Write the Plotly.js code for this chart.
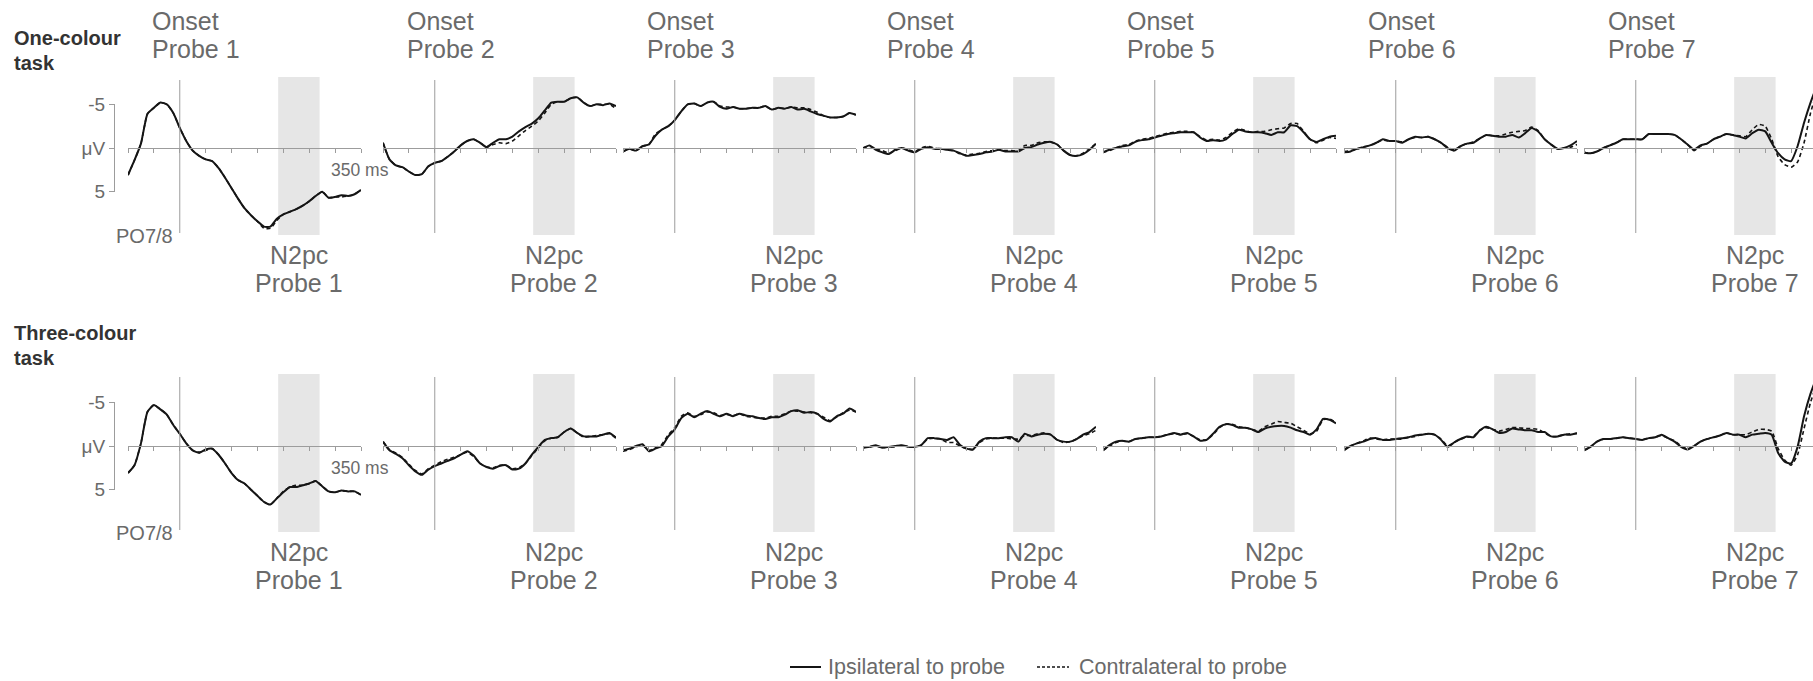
<!DOCTYPE html>
<html><head><meta charset="utf-8">
<script src="https://cdn.plot.ly/plotly-3.0.1.min.js"></script>
<style>html,body{margin:0;padding:0;background:#fff;overflow:hidden}#chart{width:1813px;height:681px}</style>
</head><body><div id="chart"></div>
<script>
// ---------- DATA ----------
const times = [-100,-87.5,-75,-62.5,-50,-37.5,-25,-12.5,0,12.5,25,37.5,50,62.5,75,87.5,100,112.5,125,137.5,150,162.5,175,187.5,200,212.5,225,237.5,250,262.5,275,287.5,300,312.5,325,337.5,350];
const probeLabels = ['Probe 1','Probe 2','Probe 3','Probe 4','Probe 5','Probe 6','Probe 7'];
const taskLabels = [['One-colour','task'],['Three-colour','task']];
const seriesNames = ['Ipsilateral to probe','Contralateral to probe'];
const onsetLabel = 'Onset';
const n2pcLabel = 'N2pc';
const n2pcWindow = [190, 270];
const electrodeLabel = 'PO7/8';
const timeLabel = '350 ms';
const scaleTicks = [-5, 0, 5];
const scaleTickText = ['-5', 'μV', '5'];

// One-colour task
const ipsiOne1 = [3.1,1.4,-0.5,-3.9,-4.6,-5.2,-5.0,-4.0,-2.3,-0.8,0.3,0.9,1.3,1.5,2.3,3.4,4.6,5.8,6.9,7.7,8.4,9.0,9.0,8.1,7.6,7.3,7.0,6.6,6.1,5.5,5.0,5.7,5.6,5.4,5.5,5.3,4.8];
const contraOne1 = [3.1,1.4,-0.5,-3.9,-4.6,-5.2,-5.0,-4.0,-2.3,-0.8,0.3,0.9,1.3,1.5,2.3,3.4,4.6,5.8,6.9,7.7,8.4,9.2,9.2,8.3,7.6,7.3,7.0,6.6,6.1,5.5,5.0,5.7,5.6,5.6,5.5,5.3,4.8];
const ipsiOne2 = [-0.6,1.3,2.0,2.2,2.7,3.1,3.0,2.1,1.7,1.5,1.0,0.4,-0.3,-0.8,-1.0,-0.6,-0.1,-0.6,-1.0,-1.0,-1.3,-1.9,-2.4,-2.8,-3.4,-4.3,-5.2,-5.3,-5.3,-5.7,-5.8,-5.2,-4.8,-5.0,-4.9,-5.1,-4.8];
const contraOne2 = [-0.6,1.3,2.0,2.2,2.7,3.1,3.0,2.1,1.7,1.5,1.0,0.4,-0.3,-0.8,-1.0,-0.6,-0.1,-0.4,-0.6,-0.5,-0.8,-1.4,-2.0,-2.5,-3.1,-4.0,-5.0,-5.3,-5.3,-5.7,-5.8,-5.2,-4.8,-5.0,-5.0,-5.0,-4.5];
const ipsiOne3 = [0.4,0.1,0.3,-0.2,-0.4,-1.4,-2.1,-2.5,-3.2,-4.2,-5.0,-5.1,-4.8,-5.2,-5.3,-4.7,-4.5,-4.7,-4.5,-4.5,-4.6,-4.6,-4.8,-4.4,-4.6,-4.5,-4.7,-4.4,-4.5,-4.2,-3.9,-3.7,-3.5,-3.5,-3.6,-4.0,-3.8];
const contraOne3 = [0.4,0.1,0.3,-0.2,-0.4,-1.6,-2.1,-2.5,-3.2,-4.2,-5.0,-5.1,-4.8,-5.2,-5.3,-4.8,-4.7,-4.7,-4.5,-4.5,-4.6,-4.6,-4.8,-4.4,-4.6,-4.5,-4.7,-4.6,-4.6,-4.4,-4.1,-3.7,-3.5,-3.5,-3.6,-4.0,-3.8];
const ipsiOne4 = [0.0,-0.3,0.2,0.5,0.7,0.2,0.0,0.3,0.5,0.1,-0.1,0.1,0.1,0.2,0.3,0.6,0.9,0.8,0.7,0.5,0.4,0.2,0.4,0.4,0.4,0.0,-0.1,-0.4,-0.6,-0.7,-0.4,0.3,0.8,0.9,0.7,0.2,-0.5];
const contraOne4 = [0.0,-0.2,0.1,0.3,0.6,0.3,0.0,0.2,0.4,0.0,-0.2,0.0,0.1,0.2,0.3,0.7,0.8,0.7,0.6,0.4,0.3,0.2,0.3,0.3,0.3,-0.3,-0.3,-0.6,-0.7,-0.7,-0.4,0.3,0.8,0.9,0.6,0.1,-0.5];
const ipsiOne5 = [0.5,0.2,0.0,-0.2,-0.3,-0.7,-0.9,-1.0,-1.2,-1.4,-1.6,-1.7,-1.8,-1.8,-1.8,-1.2,-0.8,-0.9,-0.8,-1.0,-1.6,-2.1,-1.9,-1.8,-1.8,-1.7,-1.5,-1.8,-1.8,-2.6,-2.5,-1.8,-1.0,-0.7,-1.0,-1.3,-1.4];
const contraOne5 = [0.5,0.3,0.0,-0.3,-0.4,-0.8,-1.0,-1.1,-1.3,-1.5,-1.7,-1.8,-1.9,-1.9,-1.8,-1.3,-0.9,-1.0,-0.9,-1.2,-1.8,-2.2,-2.0,-1.8,-1.9,-1.9,-2.1,-2.2,-2.3,-2.8,-2.8,-1.9,-1.0,-0.6,-0.9,-1.2,-1.1];
const ipsiOne6 = [0.5,0.4,0.1,-0.1,-0.3,-0.6,-1.0,-0.8,-0.8,-0.6,-1.0,-1.3,-1.2,-1.3,-1.0,-0.6,0.0,0.3,-0.2,-0.5,-0.6,-1.1,-1.5,-1.4,-1.3,-1.3,-1.5,-1.2,-1.7,-2.3,-1.9,-1.0,-0.4,0.1,0.0,-0.3,-0.8];
const contraOne6 = [0.4,0.3,0.1,-0.1,-0.3,-0.6,-0.9,-0.8,-0.8,-0.7,-1.0,-1.2,-1.2,-1.3,-1.0,-0.6,-0.1,0.2,-0.2,-0.5,-0.7,-1.1,-1.5,-1.4,-1.4,-1.6,-1.8,-1.9,-2.0,-2.4,-2.0,-1.0,-0.4,0.1,0.0,-0.1,-0.4];
const ipsiOne7 = [0.5,0.6,0.4,0.0,-0.3,-0.6,-1.0,-1.0,-1.0,-1.0,-1.6,-1.6,-1.6,-1.6,-1.5,-1.0,-0.4,0.2,-0.3,-0.5,-1.0,-1.3,-1.6,-1.5,-1.3,-1.1,-1.7,-2.1,-1.9,-0.6,0.6,1.3,1.5,-0.2,-2.9,-5.2,-7.2];
const contraOne7 = [0.5,0.6,0.4,0.0,-0.3,-0.6,-1.0,-1.0,-1.0,-1.0,-1.6,-1.6,-1.6,-1.6,-1.5,-1.0,-0.4,0.3,-0.2,-0.5,-1.0,-1.3,-1.6,-1.5,-1.4,-1.3,-2.1,-2.7,-2.5,-1.0,1.0,1.9,2.2,1.6,-0.6,-4.0,-6.5];

// Three-colour task
const ipsiThree1 = [3.1,2.2,-0.3,-3.9,-4.7,-4.2,-3.6,-2.4,-1.4,-0.3,0.5,0.8,0.4,0.3,1.0,2.0,3.1,3.9,4.3,5.0,5.7,6.4,6.7,6.0,5.3,4.7,4.7,4.5,4.3,4.0,4.6,5.2,5.3,5.1,5.2,5.2,5.6];
const contraThree1 = [3.1,2.2,-0.3,-3.9,-4.7,-4.2,-3.6,-2.4,-1.4,-0.3,0.5,0.7,0.5,0.3,1.0,2.0,3.1,3.9,4.3,5.0,5.7,6.4,6.7,6.0,5.2,4.7,4.5,4.5,4.3,4.0,4.6,5.2,5.3,5.1,5.2,5.2,5.6];
const ipsiThree2 = [-0.5,0.5,0.9,1.4,2.2,2.9,3.3,2.7,2.3,2.0,1.7,1.4,1.0,0.6,1.1,2.0,2.4,2.6,2.3,2.2,2.7,2.6,2.0,1.0,0.1,-0.7,-0.9,-1.0,-1.6,-2.0,-1.5,-1.1,-1.1,-1.1,-1.3,-1.5,-0.9];
const contraThree2 = [-0.5,0.4,0.8,1.3,2.1,2.8,3.2,2.6,2.2,1.8,1.5,1.3,1.0,0.7,1.2,2.0,2.4,2.5,2.2,2.2,2.6,2.5,2.0,1.1,0.2,-0.6,-0.9,-1.0,-1.6,-2.0,-1.5,-1.0,-1.1,-1.2,-1.3,-1.4,-1.0];
const ipsiThree3 = [0.5,0.3,0.0,-0.2,0.6,0.3,0.0,-1.1,-1.9,-3.2,-3.7,-3.3,-3.7,-4.0,-3.7,-3.4,-3.7,-3.4,-3.7,-3.5,-3.4,-3.2,-3.1,-3.3,-3.3,-3.6,-4.0,-4.1,-3.8,-3.9,-3.7,-3.1,-2.8,-3.4,-3.7,-4.3,-3.9];
const contraThree3 = [0.6,0.4,0.1,-0.1,0.5,0.2,-0.2,-1.3,-2.1,-3.4,-3.8,-3.4,-3.6,-3.9,-3.8,-3.5,-3.6,-3.5,-3.7,-3.4,-3.3,-3.2,-3.2,-3.4,-3.4,-3.7,-4.0,-4.0,-3.9,-3.8,-3.7,-3.3,-2.9,-3.3,-3.8,-4.1,-3.9];
const ipsiThree4 = [0.2,0.1,-0.1,0.2,0.1,0.0,-0.1,0.1,0.1,-0.1,-0.9,-0.9,-0.8,-0.7,-1.0,-0.1,0.3,0.4,-0.5,-0.9,-0.9,-0.9,-1.0,-1.0,-0.5,-1.4,-1.1,-1.3,-1.4,-1.3,-0.7,-0.5,-0.5,-0.8,-1.3,-1.6,-2.2];
const contraThree4 = [0.2,0.1,0.0,0.2,0.1,0.1,-0.1,0.1,0.1,-0.1,-0.8,-0.9,-0.8,-0.4,-0.4,0.0,0.3,0.4,-0.4,-0.8,-0.9,-0.9,-0.9,-0.8,-0.8,-1.2,-1.2,-1.4,-1.5,-1.3,-0.7,-0.4,-0.5,-0.8,-1.2,-1.4,-1.8];
const ipsiThree5 = [0.5,-0.1,-0.5,-0.6,-0.5,-0.8,-0.9,-1.0,-1.0,-1.1,-1.3,-1.5,-1.3,-1.5,-1.1,-0.6,-0.7,-1.4,-2.2,-2.5,-2.4,-2.1,-2.1,-1.9,-1.6,-2.0,-2.2,-2.3,-2.3,-2.1,-1.8,-1.6,-1.3,-1.9,-3.1,-3.0,-2.6];
const contraThree5 = [0.5,0.0,-0.4,-0.6,-0.5,-0.8,-0.9,-1.0,-1.0,-1.1,-1.3,-1.4,-1.3,-1.4,-1.1,-0.7,-0.7,-1.3,-2.1,-2.5,-2.5,-2.2,-2.1,-1.9,-1.7,-2.2,-2.5,-2.8,-2.7,-2.6,-2.2,-1.8,-1.4,-1.7,-3.0,-3.1,-2.7];
const ipsiThree6 = [0.5,0.0,-0.3,-0.5,-0.8,-0.9,-0.7,-0.7,-0.8,-0.9,-1.0,-1.2,-1.3,-1.4,-1.3,-0.7,0.1,-0.4,-0.8,-1.1,-1.0,-1.8,-2.2,-1.9,-1.5,-1.6,-2.0,-1.9,-1.8,-1.8,-1.6,-1.6,-1.1,-1.1,-1.3,-1.3,-1.5];
const contraThree6 = [0.4,0.0,-0.3,-0.6,-0.9,-0.8,-0.7,-0.8,-0.8,-0.8,-1.0,-1.1,-1.3,-1.4,-1.3,-0.8,0.0,-0.4,-0.8,-1.0,-1.1,-1.8,-2.1,-1.9,-1.7,-1.9,-2.1,-2.1,-2.0,-2.0,-1.9,-1.5,-1.1,-1.1,-1.3,-1.4,-1.4];
const ipsiThree7 = [0.5,0.1,-0.5,-0.8,-0.8,-0.9,-1.0,-0.9,-0.8,-0.7,-0.9,-1.0,-1.3,-0.9,-0.5,0.1,0.4,0.0,-0.5,-0.8,-1.0,-1.2,-1.5,-1.3,-1.3,-1.0,-1.3,-1.4,-1.5,-1.3,0.8,1.8,2.0,0.1,-3.4,-6.0,-8.0];
const contraThree7 = [0.5,0.1,-0.5,-0.8,-0.8,-0.9,-1.0,-0.9,-0.8,-0.7,-0.9,-1.0,-1.2,-0.9,-0.6,0.0,0.3,0.0,-0.5,-0.8,-1.0,-1.2,-1.5,-1.3,-1.3,-1.3,-1.6,-1.9,-1.9,-1.7,0.3,1.6,2.2,1.0,-2.0,-5.0,-7.2];

const ipsiRows = [[ipsiOne1,ipsiOne2,ipsiOne3,ipsiOne4,ipsiOne5,ipsiOne6,ipsiOne7],
                  [ipsiThree1,ipsiThree2,ipsiThree3,ipsiThree4,ipsiThree5,ipsiThree6,ipsiThree7]];
const contraRows = [[contraOne1,contraOne2,contraOne3,contraOne4,contraOne5,contraOne6,contraOne7],
                    [contraThree1,contraThree2,contraThree3,contraThree4,contraThree5,contraThree6,contraThree7]];

// ---------- LAYOUT GEOMETRY (pixels) ----------
const W = 1813, H = 681;
const panelLeft = [128, 383, 623, 863, 1103, 1344, 1584];
const panelWidth = 233;
const xMin = -100, xMax = 350;
const pxPerUV = 8.73;
const rowGeom = [
  {zero:148, top:77, bottom:235, onsetTop:80, onsetBottom:233, title1:21, title2:49, n2pc1:255, n2pc2:283, task1:38, task2:63, msY:170, poY:236},
  {zero:446, top:374, bottom:532, onsetTop:377, onsetBottom:530, title1:null, title2:null, n2pc1:552, n2pc2:580, task1:333, task2:358, msY:468, poY:533}
];
// legend key geometry: [lineStart, lineEnd, textStart]
const legendKeys = [[790, 821, 826], [1037, 1069, 1077]];
const legendY = 667;
const grey = '#9c9c9c';
const textGrey = '#6a6a6a';
const lineBlack = '#151515';
const FONT = 'Liberation Sans, Arial, sans-serif';
const bigSize = 25;
const dashStyle = '4px,3px';

const py = p => 1 - p / H;
const pxX = p => p / W;

const data = [];
const layout = {
  width: W, height: H,
  margin: {l:0, r:0, t:0, b:0},
  paper_bgcolor: '#fff', plot_bgcolor: 'rgba(0,0,0,0)',
  font: {family: FONT, color: textGrey},
  showlegend: false,
  shapes: [], annotations: []
};

rowGeom.forEach((g, r) => {
  const yBottomVal = (g.bottom - g.zero) / pxPerUV;
  const yTopVal = (g.top - g.zero) / pxPerUV;
  for (let i = 0; i < 7; i++) {
    const n = r * 7 + i + 1;
    const xn = n === 1 ? 'x' : 'x' + n;
    const yn = n === 1 ? 'y' : 'y' + n;
    const xk = n === 1 ? 'xaxis' : 'xaxis' + n;
    const yk = n === 1 ? 'yaxis' : 'yaxis' + n;
    const right = Math.min(W, panelLeft[i] + panelWidth);
    const rangeEnd = xMin + (right - panelLeft[i]) / panelWidth * (xMax - xMin);
    layout[xk] = {domain:[pxX(panelLeft[i]), pxX(right)], range:[xMin, rangeEnd],
      anchor:'free', position: py(g.zero), showline:true, linecolor:grey, linewidth:1,
      ticks:'outside', ticklen:4, tickwidth:1, tickcolor:grey, tickmode:'linear', tick0:-100, dtick:50,
      showticklabels:false, showgrid:false, zeroline:false, fixedrange:true};
    layout[yk] = {domain:[py(g.bottom), py(g.top)], range:[yBottomVal, yTopVal], anchor:xn,
      visible:false, showgrid:false, zeroline:false, fixedrange:true};

    layout.shapes.push({type:'rect', xref:xn, yref:yn + ' domain', x0:n2pcWindow[0], x1:n2pcWindow[1], y0:0, y1:1,
      fillcolor:'#e6e6e6', line:{width:0}, layer:'below'});
    const span = g.bottom - g.top;
    layout.shapes.push({type:'line', xref:xn, yref:yn + ' domain', x0:0, x1:0,
      y0:(g.bottom - g.onsetBottom)/span, y1:(g.bottom - g.onsetTop)/span, line:{color:grey, width:1}, layer:'above'});

    data.push({x: times, y: contraRows[r][i], xaxis: xn, yaxis: yn, type:'scatter', mode:'lines',
      name: seriesNames[1],
      line:{color:lineBlack, width:1.6, dash:dashStyle, shape:'spline', smoothing:0.5}, hoverinfo:'skip'});
    data.push({x: times, y: ipsiRows[r][i], xaxis: xn, yaxis: yn, type:'scatter', mode:'lines',
      name: seriesNames[0],
      line:{color:lineBlack, width:2, shape:'spline', smoothing:0.5}, hoverinfo:'skip'});

    if (g.title1 !== null) {
      layout.annotations.push({xref:xn, x:0, xshift:-30, xanchor:'left', yref:'paper', y:py(g.title1), yanchor:'middle',
        text:onsetLabel, showarrow:false, font:{size:bigSize, color:textGrey}});
      layout.annotations.push({xref:xn, x:0, xshift:-30, xanchor:'left', yref:'paper', y:py(g.title2), yanchor:'middle',
        text:probeLabels[i], showarrow:false, font:{size:bigSize, color:textGrey}});
    }
    const mid = (n2pcWindow[0] + n2pcWindow[1]) / 2;
    layout.annotations.push({xref:xn, x:mid, xanchor:'center', yref:'paper', y:py(g.n2pc1), yanchor:'middle',
      text:n2pcLabel, showarrow:false, font:{size:bigSize, color:textGrey}});
    layout.annotations.push({xref:xn, x:mid, xanchor:'center', yref:'paper', y:py(g.n2pc2), yanchor:'middle',
      text:probeLabels[i], showarrow:false, font:{size:bigSize, color:textGrey}});

    if (i === 0) {
      layout.annotations.push({xref:xn, x:350, xshift:-1, xanchor:'center', yref:'paper', y:py(g.msY), yanchor:'middle',
        text:timeLabel, showarrow:false, font:{size:17.5, color:textGrey}});
      layout.annotations.push({xref:'paper', x:pxX(175), xanchor:'right', yref:'paper', y:py(g.poY), yanchor:'middle',
        text:electrodeLabel, showarrow:false, font:{size:20, color:textGrey}});
      const sk = 'yaxis' + (15 + r);
      const sn = 'y' + (15 + r);
      const half = 5 * pxPerUV;
      layout[sk] = {domain:[py(g.zero + half), py(g.zero - half)], range:[5, -5], anchor:'free', position:pxX(114),
        showline:true, linecolor:grey, linewidth:1, ticks:'outside', ticklen:5, tickwidth:1, tickcolor:grey,
        tickmode:'array', tickvals:scaleTicks, ticktext:scaleTickText, tickfont:{size:19, color:textGrey, family:FONT},
        showgrid:false, zeroline:false, fixedrange:true};
      data.push({x:[null], y:[null], xaxis:xn, yaxis:sn, type:'scatter', mode:'lines', showlegend:false, hoverinfo:'skip'});
    }
  }
  layout.annotations.push({xref:'paper', x:pxX(12), xanchor:'left', yref:'paper', y:py(g.task1), yanchor:'middle',
    text:'<b>' + taskLabels[r][0] + '</b>', showarrow:false, font:{size:20, color:'#333333'}});
  layout.annotations.push({xref:'paper', x:pxX(12), xanchor:'left', yref:'paper', y:py(g.task2), yanchor:'middle',
    text:'<b>' + taskLabels[r][1] + '</b>', showarrow:false, font:{size:20, color:'#333333'}});
});

// legend (keys + labels)
legendKeys.forEach((k, j) => {
  layout.shapes.push({type:'line', xref:'paper', yref:'paper', x0:pxX(k[0]), x1:pxX(k[1]), y0:py(legendY), y1:py(legendY),
    line:{color:lineBlack, width: j === 0 ? 2 : 1.6, dash: j === 0 ? 'solid' : '3px,2px'}});
  layout.annotations.push({xref:'paper', x:pxX(k[2]), xanchor:'left', yref:'paper', y:py(legendY), yanchor:'middle',
    text:seriesNames[j], showarrow:false, font:{size:21.5, color:textGrey}});
});

Plotly.newPlot('chart', data, layout, {staticPlot:true, displayModeBar:false});
</script>
</body></html>
